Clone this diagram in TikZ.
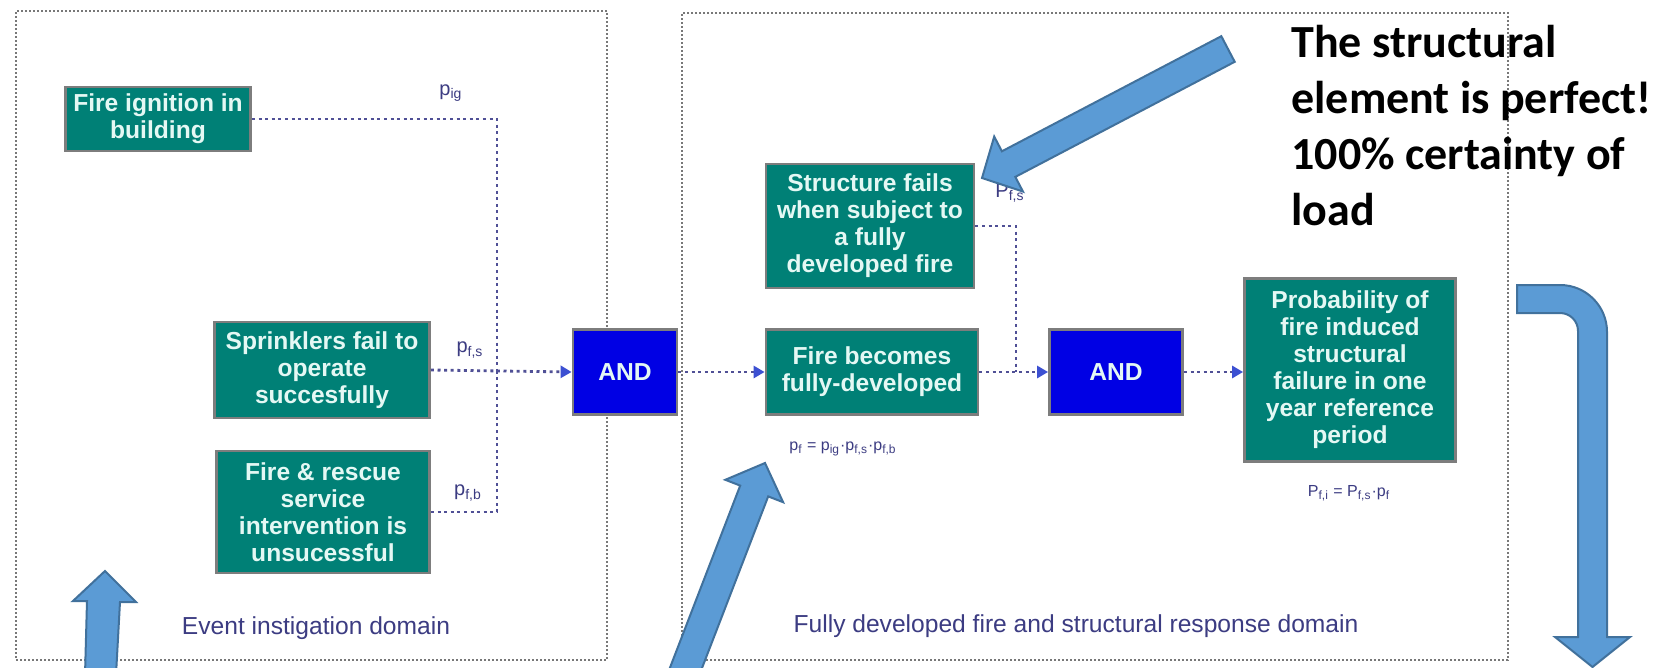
\documentclass[tikz,border=0pt]{standalone}
\usepackage{fontspec}
\setmainfont{Liberation Sans}
\newfontfamily\calloutfont{Carlito}
\usetikzlibrary{arrows.meta}
\definecolor{boxteal}{RGB}{0,128,118}
\definecolor{boxedge}{RGB}{125,125,125}
\definecolor{boxtext}{RGB}{228,248,244}
\definecolor{andblue}{RGB}{0,0,228}
\definecolor{linkcol}{RGB}{80,80,150}
\definecolor{headcol}{RGB}{60,80,210}
\definecolor{labelcol}{RGB}{60,60,130}
\definecolor{calloutfill}{RGB}{91,155,213}
\definecolor{calloutedge}{RGB}{65,113,156}
\definecolor{domainedge}{RGB}{120,120,120}

\begin{document}
\begin{tikzpicture}[x=0.5pt,y=-0.5pt,
  event/.style={draw=boxedge, line width=1.4pt, fill=boxteal, text=boxtext,
    font=\bfseries\fontsize{12.3}{13.5}\selectfont, align=center, inner sep=1pt},
  gate/.style={draw=boxedge, line width=1.4pt, fill=andblue, text=boxtext,
    font=\bfseries\fontsize{12.3}{13.5}\selectfont, minimum height=42.5pt},
  domainbox/.style={draw=domainedge, line width=1pt, dash pattern=on 1pt off 1pt},
  link/.style={draw=linkcol, line width=1.4pt, dash pattern=on 1.5pt off 1.8pt},
  flow/.style={link, -{Triangle[length=5.5pt,width=6pt,color=headcol]}},
  plabel/.style={text=labelcol, font=\fontsize{10}{12}\selectfont},
  formula/.style={text=labelcol, font=\fontsize{8}{10}\selectfont},
  domlabel/.style={text=labelcol, font=\fontsize{12.3}{14}\selectfont},
  callout/.style={fill=calloutfill, draw=calloutedge, line width=1pt, line join=miter},
]
\useasboundingbox (0,0) rectangle (1663,668);
\fill[white] (0,0) rectangle (1663,668);

% the two domains
\node[domainbox, minimum width=295.5pt, minimum height=324.5pt] (dom1) at (311.5,335.5) {};
\node[domainbox, minimum width=413pt, minimum height=323.5pt] (dom2) at (1095,336.5) {};

% events and gates
\node[event, minimum width=92.5pt, minimum height=32pt] (ign) at (158,119) {Fire ignition in\\building};
\node[event, minimum width=107.5pt, minimum height=48pt] (spr) at (322,370) {Sprinklers fail to\\operate\\succesfully};
\node[event, minimum width=106.5pt, minimum height=61pt] (fr) at (323,512) {Fire \& rescue\\service\\intervention is\\unsucessful};
\node[gate, minimum width=52pt] (and1) at (625,372) {AND};
\node[event, minimum width=106pt, minimum height=42.5pt] (fbc) at (872,372) {Fire becomes\\fully-developed};
\node[event, minimum width=104pt, minimum height=62pt] (sf) at (870,226) {Structure fails\\when subject to\\a fully\\developed fire};
\node[gate, minimum width=66.5pt] (and2) at (1116,372) {AND};
\node[event, minimum width=105.5pt, minimum height=91.5pt] (prob) at (1350,370) {Probability of\\fire induced\\structural\\failure in one\\year reference\\period};

% connectors
\coordinate (j1) at (497,372);
\coordinate (j2) at (1016,372);
\draw[link] (ign.east) -| (j1);
\draw[link] (fr.east) -| (j1);
\draw[flow] (spr.east) -- (and1.west);
\draw[flow] (and1.east) -- (fbc.west);
\draw[link] (sf.east) -| (j2);
\draw[flow] (fbc.east) -- (and2.west);
\draw[flow] (and2.east) -- (and2.east -| prob.west);

% probabilities
\node[plabel] (pig) at (451,93) {p\textsubscript{ig}};
\node[plabel] (pfs) at (470,350) {p\textsubscript{f,s}};
\node[plabel] (pfb) at (468,493) {p\textsubscript{f,b}};
\node[plabel] (Pfs) at (1010,193) {P\textsubscript{f,s}};
\node[formula] (pf) at (843,449) {p\textsubscript{f} = p\textsubscript{ig}·p\textsubscript{f,s}·p\textsubscript{f,b}};
\node[formula] (pfi) at (1349,493) {P\textsubscript{f,i} = P\textsubscript{f,s}·p\textsubscript{f}};

% domain captions
\node[domlabel] (cap1) at (316,628) {Event instigation domain};
\node[domlabel] (cap2) at (1076,626) {Fully developed fire and structural response domain};

% block arrows
\draw[callout] (1221.3,36.2) -- (1234.7,61.8) -- (1015.3,176.9) -- (1023,191.6) -- (982,178)
  -- (994.2,136.6) -- (1001.9,151.3) -- cycle;
\draw[callout] (85,675) -- (87,601) -- (73,601) -- (105,571) -- (136,602) -- (120,602)
  -- (116,675) -- cycle;
\draw[callout] (667.3,674.6) -- (740.2,485.6) -- (725.3,479.8) -- (765,463) -- (783.1,502.2)
  -- (768.2,496.4) -- (695.3,685.4) -- cycle;
\draw[callout] (1517,285) -- (1560,285) .. controls (1586,285) and (1607,306) .. (1607,332)
  -- (1607,637) -- (1630,637) -- (1592.5,667) -- (1555,637) -- (1578,637) -- (1578,331)
  .. controls (1578,321) and (1570,313) .. (1560,313) -- (1517,313) -- cycle;

% remark
\node[anchor=north west, inner sep=0pt, align=left,
  font=\calloutfont\bfseries\fontsize{23}{28}\selectfont] (note) at (1291,25)
  {The structural\\element is perfect!\\100\% certainty of\\load};
\end{tikzpicture}
\end{document}
